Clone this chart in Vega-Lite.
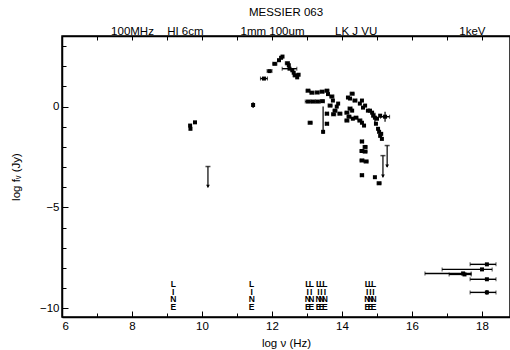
{
  "$schema": "https://vega.github.io/schema/vega-lite/v6.json",
  "width": 448,
  "height": 281,
  "autosize": {"type": "none"},
  "padding": {"left": 62, "top": 36, "right": 0, "bottom": 33},
  "title": {"text": "MESSIER 063", "fontSize": 11.5, "font": "Liberation Sans", "fontWeight": "normal", "offset": 7, "color": "black"},
  "config": {
    "view": {"stroke": "black", "strokeWidth": 1.5},
    "axis": {"domainColor": "black", "domainWidth": 1.5, "tickColor": "black", "labelColor": "black", "titleColor": "black", "labelFont": "Liberation Sans", "titleFont": "Liberation Sans", "labelFontSize": 11.5, "titleFontSize": 11.5, "titleFontWeight": "normal", "grid": false, "labelOverlap": false}
  },
  "datasets": {
    "pts": [
      {"x": 9.66, "y": -0.94}, {"x": 9.67, "y": -1.1}, {"x": 9.8, "y": -0.78},
      {"x": 11.46, "y": 0.08, "yl": -0.07, "yh": 0.22},
      {"x": 11.77, "y": 1.39, "xl": 11.67, "xh": 11.87},
      {"x": 11.93, "y": 1.76, "xl": 11.86, "xh": 12.0},
      {"x": 12.08, "y": 2.12, "xl": 12.02, "xh": 12.14},
      {"x": 12.2, "y": 2.3},
      {"x": 12.26, "y": 2.42},
      {"x": 12.3, "y": 2.48},
      {"x": 12.44, "y": 2.15, "xl": 12.38, "xh": 12.5},
      {"x": 12.48, "y": 2.05},
      {"x": 12.5, "y": 1.88, "xl": 12.29, "xh": 12.71},
      {"x": 12.58, "y": 1.8},
      {"x": 12.62, "y": 1.68},
      {"x": 12.66, "y": 1.55, "xl": 12.6, "xh": 12.72},
      {"x": 12.72, "y": 1.45},
      {"x": 12.76, "y": 1.58},
      {"x": 13.03, "y": 0.79, "xl": 12.97, "xh": 13.09},
      {"x": 13.14, "y": 0.69, "xl": 13.08, "xh": 13.2},
      {"x": 13.29, "y": 0.7, "xl": 13.23, "xh": 13.35},
      {"x": 13.43, "y": 0.74, "xl": 13.37, "xh": 13.49},
      {"x": 13.57, "y": 0.79, "xl": 13.51, "xh": 13.63},
      {"x": 13.6, "y": 0.62},
      {"x": 13.03, "y": 0.25, "xl": 12.95, "xh": 13.11},
      {"x": 13.17, "y": 0.25, "xl": 13.1, "xh": 13.24},
      {"x": 13.31, "y": 0.25, "xl": 13.24, "xh": 13.38},
      {"x": 13.44, "y": 0.27, "xl": 13.38, "xh": 13.5},
      {"x": 13.71, "y": 0.5, "xl": 13.65, "xh": 13.77},
      {"x": 13.74, "y": 0.3},
      {"x": 13.66, "y": 0.05, "xl": 13.6, "xh": 13.72},
      {"x": 13.57, "y": -0.35, "xl": 13.52, "xh": 13.62},
      {"x": 13.57, "y": -0.85, "xl": 13.52, "xh": 13.62},
      {"x": 13.09, "y": -0.8, "xl": 13.03, "xh": 13.15},
      {"x": 13.8, "y": -0.2, "xl": 13.74, "xh": 13.86},
      {"x": 13.89, "y": 0.15},
      {"x": 13.94, "y": -0.35, "xl": 13.88, "xh": 14.0},
      {"x": 13.76, "y": -0.38, "xl": 13.7, "xh": 13.82},
      {"x": 13.85, "y": 0.0},
      {"x": 14.17, "y": 0.45},
      {"x": 14.29, "y": 0.64, "xl": 14.23, "xh": 14.35},
      {"x": 14.23, "y": 0.4},
      {"x": 14.37, "y": 0.3, "xl": 14.31, "xh": 14.43},
      {"x": 14.51, "y": 0.15},
      {"x": 14.6, "y": -0.05},
      {"x": 14.74, "y": -0.2},
      {"x": 14.86, "y": -0.3},
      {"x": 14.89, "y": -0.45},
      {"x": 15.0, "y": -0.6},
      {"x": 14.14, "y": -0.3, "xl": 14.08, "xh": 14.2},
      {"x": 14.23, "y": -0.1, "xl": 14.17, "xh": 14.29},
      {"x": 14.29, "y": -0.2},
      {"x": 14.2, "y": -0.5, "xl": 14.14, "xh": 14.26},
      {"x": 14.4, "y": -0.55, "xl": 14.34, "xh": 14.46},
      {"x": 14.14, "y": -0.69, "xl": 14.08, "xh": 14.2},
      {"x": 14.31, "y": -0.6},
      {"x": 14.51, "y": -0.69, "xl": 14.45, "xh": 14.57},
      {"x": 14.57, "y": -0.8},
      {"x": 14.63, "y": -0.94},
      {"x": 14.57, "y": 0.3},
      {"x": 14.66, "y": 0.05},
      {"x": 14.8, "y": -0.2},
      {"x": 14.94, "y": -0.55, "yl": -0.8, "yh": -0.3},
      {"x": 15.09, "y": -0.45},
      {"x": 15.23, "y": -0.5, "xl": 15.1, "xh": 15.36, "yl": -0.75, "yh": -0.25},
      {"x": 14.97, "y": -0.85},
      {"x": 15.03, "y": -1.1},
      {"x": 15.06, "y": -1.25},
      {"x": 15.09, "y": -1.45},
      {"x": 15.14, "y": -1.6},
      {"x": 15.12, "y": -1.35},
      {"x": 14.57, "y": -1.73, "xl": 14.52, "xh": 14.62},
      {"x": 14.66, "y": -2.0, "xl": 14.6, "xh": 14.72},
      {"x": 14.57, "y": -2.2, "xl": 14.51, "xh": 14.63},
      {"x": 14.66, "y": -2.23, "xl": 14.6, "xh": 14.72},
      {"x": 14.57, "y": -2.67, "xl": 14.51, "xh": 14.63},
      {"x": 14.69, "y": -2.72, "xl": 14.63, "xh": 14.75},
      {"x": 14.57, "y": -3.4, "xl": 14.52, "xh": 14.62},
      {"x": 14.94, "y": -3.5},
      {"x": 15.06, "y": -3.8, "xl": 15.0, "xh": 15.12},
      {"x": 13.46, "y": -1.25, "yl": -1.35, "yh": 0.0},
      {"x": 18.14, "y": -7.82, "xl": 17.66, "xh": 18.4},
      {"x": 18.0, "y": -8.07, "xl": 16.86, "xh": 18.29},
      {"x": 17.46, "y": -8.27, "xl": 16.37, "xh": 17.69},
      {"x": 17.5, "y": -8.32, "xl": 17.06, "xh": 17.69},
      {"x": 18.14, "y": -8.56, "xl": 17.66, "xh": 18.4},
      {"x": 18.14, "y": -9.21, "xl": 17.66, "xh": 18.4, "yl": -9.33, "yh": -9.09}
    ],
    "ulim": [
      {"x": 10.17, "y": -2.97, "y2": -4.0},
      {"x": 15.29, "y": -1.93, "y2": -3.0},
      {"x": 15.17, "y": -2.43, "y2": -3.5}
    ],
    "lines": [
      {"x": 9.18, "y": -8.6, "t": "L\nI\nN\nE"},
      {"x": 11.42, "y": -8.6, "t": "L\nI\nN\nE"},
      {"x": 13.023, "y": -8.6, "t": "L\nI\nN\nE"},
      {"x": 13.123, "y": -8.6, "t": "L\nI\nN\nE"},
      {"x": 13.329, "y": -8.6, "t": "L\nI\nN\nE"},
      {"x": 13.414, "y": -8.6, "t": "L\nI\nN\nE"},
      {"x": 13.509, "y": -8.6, "t": "L\nI\nN\nE"},
      {"x": 14.723, "y": -8.6, "t": "L\nI\nN\nE"},
      {"x": 14.814, "y": -8.6, "t": "L\nI\nN\nE"},
      {"x": 14.9, "y": -8.6, "t": "L\nI\nN\nE"}
    ]
  },
  "resolve": {"axis": {"x": "independent", "y": "independent"}},
  "layer": [
    {
      "data": {"name": "pts"},
      "mark": {"type": "point", "shape": "square", "filled": true, "size": 16, "color": "black", "opacity": 1},
      "encoding": {
        "x": {"field": "x", "type": "quantitative", "scale": {"domain": [6, 18.8], "nice": false, "zero": false},
          "axis": {"orient": "bottom", "title": "log ν (Hz)", "values": [6, 7, 8, 9, 10, 11, 12, 13, 14, 15, 16, 17, 18],
            "labelExpr": "datum.value % 2 == 0 ? datum.label : ''",
            "tickSize": {"condition": {"test": "datum.value % 2 == 0", "value": -6}, "value": -4},
            "labelPadding": 9, "titlePadding": 4}},
        "y": {"field": "y", "type": "quantitative", "scale": {"domain": [-10.43, 3.5], "nice": false, "zero": false},
          "axis": {"orient": "left", "title": "log fᵥ (Jy)", "values": [-10, -9, -8, -7, -6, -5, -4, -3, -2, -1, 0, 1, 2, 3],
            "labelExpr": "datum.value % 5 == 0 ? datum.label : ''",
            "tickSize": {"condition": {"test": "datum.value % 5 == 0", "value": -6}, "value": -4},
            "labelPadding": 9, "titlePadding": 18}}
      }
    },
    {
      "data": {"name": "pts"},
      "transform": [{"filter": "isValid(datum.xl)"}],
      "mark": {"type": "rule", "color": "black", "strokeWidth": 1.4},
      "encoding": {
        "x": {"field": "xl", "type": "quantitative", "scale": {"domain": [6, 18.8], "nice": false, "zero": false}, "axis": null},
        "x2": {"field": "xh"},
        "y": {"field": "y", "type": "quantitative", "scale": {"domain": [-10.43, 3.5], "nice": false, "zero": false}, "axis": null}
      }
    },
    {
      "data": {"name": "pts"},
      "transform": [{"filter": "isValid(datum.xl)"}],
      "mark": {"type": "tick", "orient": "vertical", "color": "black", "size": 4, "thickness": 1},
      "encoding": {
        "x": {"field": "xl", "type": "quantitative", "scale": {"domain": [6, 18.8], "nice": false, "zero": false}, "axis": null},
        "y": {"field": "y", "type": "quantitative", "scale": {"domain": [-10.43, 3.5], "nice": false, "zero": false}, "axis": null}
      }
    },
    {
      "data": {"name": "pts"},
      "transform": [{"filter": "isValid(datum.xh)"}],
      "mark": {"type": "tick", "orient": "vertical", "color": "black", "size": 4, "thickness": 1},
      "encoding": {
        "x": {"field": "xh", "type": "quantitative", "scale": {"domain": [6, 18.8], "nice": false, "zero": false}, "axis": null},
        "y": {"field": "y", "type": "quantitative", "scale": {"domain": [-10.43, 3.5], "nice": false, "zero": false}, "axis": null}
      }
    },
    {
      "data": {"name": "pts"},
      "transform": [{"filter": "isValid(datum.yl)"}],
      "mark": {"type": "rule", "color": "black", "strokeWidth": 1.2},
      "encoding": {
        "x": {"field": "x", "type": "quantitative", "scale": {"domain": [6, 18.8], "nice": false, "zero": false}, "axis": null},
        "y": {"field": "yl", "type": "quantitative", "scale": {"domain": [-10.43, 3.5], "nice": false, "zero": false}, "axis": null},
        "y2": {"field": "yh"}
      }
    },
    {
      "data": {"name": "ulim"},
      "mark": {"type": "rule", "color": "black", "strokeWidth": 1.2},
      "encoding": {
        "x": {"field": "x", "type": "quantitative", "scale": {"domain": [6, 18.8], "nice": false, "zero": false}, "axis": null},
        "y": {"field": "y", "type": "quantitative", "scale": {"domain": [-10.43, 3.5], "nice": false, "zero": false}, "axis": null},
        "y2": {"field": "y2"}
      }
    },
    {
      "data": {"name": "ulim"},
      "mark": {"type": "tick", "orient": "horizontal", "color": "black", "size": 5, "thickness": 1.5},
      "encoding": {
        "x": {"field": "x", "type": "quantitative", "scale": {"domain": [6, 18.8], "nice": false, "zero": false}, "axis": null},
        "y": {"field": "y", "type": "quantitative", "scale": {"domain": [-10.43, 3.5], "nice": false, "zero": false}, "axis": null}
      }
    },
    {
      "data": {"name": "ulim"},
      "mark": {"type": "point", "shape": "triangle-down", "filled": true, "size": 14, "color": "black", "opacity": 1, "yOffset": -1},
      "encoding": {
        "x": {"field": "x", "type": "quantitative", "scale": {"domain": [6, 18.8], "nice": false, "zero": false}, "axis": null},
        "y": {"field": "y2", "type": "quantitative", "scale": {"domain": [-10.43, 3.5], "nice": false, "zero": false}, "axis": null}
      }
    },
    {
      "data": {"name": "lines"},
      "mark": {"type": "text", "align": "center", "baseline": "top", "lineBreak": "\n", "fontSize": 8.5, "lineHeight": 7.5, "fontWeight": "bold", "font": "Liberation Sans", "color": "black"},
      "encoding": {
        "x": {"field": "x", "type": "quantitative", "scale": {"domain": [6, 18.8], "nice": false, "zero": false},
          "axis": {"orient": "top", "title": null, "values": [6, 7, 8, 9, 9.51, 10, 11, 12, 13, 14, 14.39, 15, 16, 17, 17.71, 18],
            "labelExpr": "datum.value == 8 ? '100MHz' : datum.value == 9.51 ? 'HI 6cm' : datum.value == 12 ? '1mm 100um' : datum.value == 14.39 ? 'LK J  VU' : datum.value == 17.71 ? '1keV' : ''",
            "tickOpacity": {"condition": {"test": "datum.value % 1 == 0", "value": 1}, "value": 0},
            "tickSize": -4, "labelPadding": 4}},
        "y": {"field": "y", "type": "quantitative", "scale": {"domain": [-10.43, 3.5], "nice": false, "zero": false}, "axis": null},
        "text": {"field": "t"}
      }
    }
  ]
}
